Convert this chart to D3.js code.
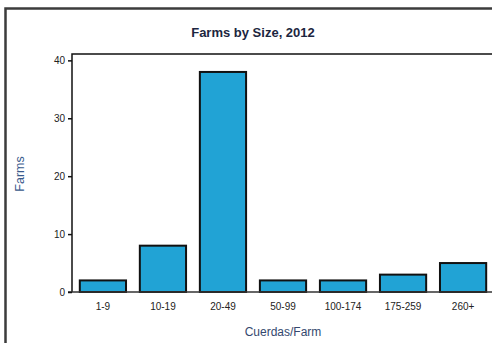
<!DOCTYPE html>
<html>
<head>
<meta charset="utf-8">
<script src="https://cdn.jsdelivr.net/npm/d3@7"></script>
<style>
  body { margin: 0; background: #fff; }
  text { font-family: "Liberation Sans", Arial, sans-serif; }
</style>
</head>
<body>
<div id="chart"></div>
<script>
// Data
var sizes = ["1-9", "10-19", "20-49", "50-99", "100-174", "175-259", "260+"];
var farms = [2, 8, 38, 2, 2, 3, 5];
var yTicks = [0, 10, 20, 30, 40];

var W = 492, H = 343;
var plot = {left: 72, top: 54, right: 494, bottom: 292};

var svg = d3.select("#chart").append("svg")
  .attr("width", W)
  .attr("height", H);

// outer frame (runs off the picture on the right and bottom)
svg.append("rect")
  .attr("x", 5.5).attr("y", 8.5)
  .attr("width", 600).attr("height", 400)
  .attr("fill", "none")
  .attr("stroke", "#3c3c3c")
  .attr("stroke-width", 2.5);

// title
svg.append("text")
  .attr("x", 253).attr("y", 37)
  .attr("text-anchor", "middle")
  .attr("font-size", "13px")
  .attr("font-weight", "bold")
  .attr("fill", "#1c2640")
  .text("Farms by Size, 2012");

var x = d3.scaleBand()
  .domain(sizes)
  .range([plot.left, plot.right])
  .paddingInner(0.23)
  .paddingOuter(0.13);

var y = d3.scaleLinear()
  .domain([0, 41.1])
  .range([plot.bottom, plot.top]);

var g = svg.append("g");

// bars
g.selectAll(".bar")
  .data(farms).enter().append("rect")
  .attr("class", "bar")
  .attr("x", function(d, i){ return x(sizes[i]); })
  .attr("y", function(d){ return y(d); })
  .attr("width", x.bandwidth())
  .attr("height", function(d){ return y(0) - y(d); })
  .attr("fill", "#21a3d5")
  .attr("stroke", "#111")
  .attr("stroke-width", 2);

// plot box: top line, left axis, baseline
g.append("path")
  .attr("d", "M" + (W + 5) + "," + plot.top + "H" + plot.left + "V" + plot.bottom)
  .attr("fill", "none")
  .attr("stroke", "#111")
  .attr("stroke-width", 1.5);

g.append("line")
  .attr("x1", plot.left - 4).attr("x2", W + 5)
  .attr("y1", plot.bottom).attr("y2", plot.bottom)
  .attr("stroke", "#333")
  .attr("stroke-width", 1.5);

// y axis
var yAxis = d3.axisLeft(y)
  .tickValues(yTicks)
  .tickSize(4)
  .tickPadding(3);

var ya = svg.append("g")
  .attr("transform", "translate(" + plot.left + ",0)")
  .call(yAxis);
ya.select(".domain").remove();
ya.selectAll("line").attr("stroke", "#111").attr("stroke-width", 1.5);
ya.selectAll("text")
  .attr("font-size", "10px")
  .attr("font-family", "Liberation Sans, Arial, sans-serif")
  .attr("fill", "#222");

// x axis
var xAxis = d3.axisBottom(x)
  .tickSize(0)
  .tickPadding(11);

var xa = svg.append("g")
  .attr("transform", "translate(0," + plot.bottom + ")")
  .call(xAxis);
xa.select(".domain").remove();
xa.selectAll("text")
  .attr("font-size", "10px")
  .attr("font-family", "Liberation Sans, Arial, sans-serif")
  .attr("fill", "#222");

// axis titles
svg.append("text")
  .attr("x", 283).attr("y", 336)
  .attr("text-anchor", "middle")
  .attr("font-size", "12px")
  .attr("fill", "#34486e")
  .text("Cuerdas/Farm");

svg.append("text")
  .attr("transform", "translate(24,174) rotate(-90)")
  .attr("text-anchor", "middle")
  .attr("font-size", "12.5px")
  .attr("fill", "#3a5a8c")
  .text("Farms");
</script>
</body>
</html>
